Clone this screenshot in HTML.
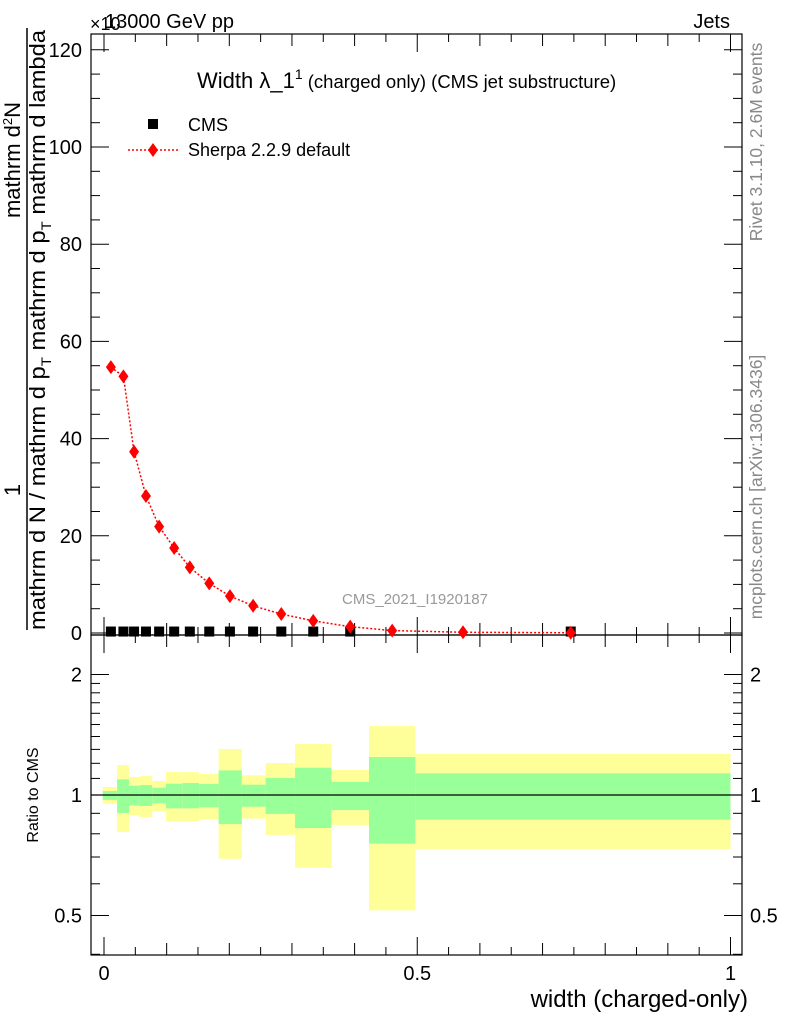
<!DOCTYPE html>
<html><head><meta charset="utf-8"><style>
html,body{margin:0;padding:0;background:#fff}
svg{display:block;font-family:"Liberation Sans",sans-serif}
</style></head><body>
<svg id="chart" width="786" height="1024" viewBox="0 0 786 1024" xmlns="http://www.w3.org/2000/svg">
<g id="main"></g>
</svg>
<script>
const binEdges=[0,0.021,0.040,0.057,0.077,0.099,0.124,0.152,0.184,0.221,0.259,0.305,0.363,0.423,0.497];
const sherpaX=[0.011,0.031,0.048,0.067,0.088,0.112,0.137,0.168,0.201,0.238,0.283,0.334,0.393,0.460,0.573,0.745];
const sherpaY=[54.7,52.8,37.3,28.2,21.9,17.5,13.5,10.2,7.6,5.6,3.9,2.5,1.3,0.5,0.15,0.05];
const cmsX=[0.011,0.031,0.048,0.067,0.088,0.112,0.137,0.168,0.201,0.238,0.283,0.334,0.393,0.745];
const cmsY=[0.3,0.3,0.3,0.3,0.3,0.3,0.3,0.3,0.3,0.3,0.3,0.3,0.3,0.3];
const ratioEdges=[-0.002,0.021,0.040,0.057,0.077,0.099,0.125,0.152,0.183,0.220,0.258,0.305,0.363,0.423,0.497,1.0];
const greenHi=[1.023,1.094,1.055,1.059,1.043,1.067,1.071,1.065,1.152,1.061,1.103,1.170,1.078,1.244,1.133];
const greenLo=[0.972,0.902,0.942,0.939,0.953,0.926,0.926,0.932,0.846,0.935,0.897,0.827,0.917,0.756,0.868];
const yellowHi=[1.047,1.188,1.109,1.115,1.084,1.141,1.141,1.128,1.303,1.120,1.202,1.341,1.155,1.487,1.266];
const yellowLo=[0.951,0.808,0.890,0.881,0.912,0.858,0.858,0.871,0.693,0.873,0.795,0.658,0.841,0.515,0.733];
const mainTicks=[0,20,40,60,80,100,120];
const ratioTicks=[0.5,1,2];

const NS="http://www.w3.org/2000/svg";
const g=document.getElementById('main');
const L=91,R=742,T=34,MB=635,RB=955;
const X=v=>104+v*626.5;
const Y=v=>633-v*4.86;
const RY=v=>795-Math.log2(v)*120.5;
function el(tag,attrs,parent){const e=document.createElementNS(NS,tag);for(const k in attrs)e.setAttribute(k,attrs[k]);(parent||g).appendChild(e);return e;}
function txt(s,attrs){const e=el('text',attrs);e.textContent=s;return e;}

for(let i=0;i<greenHi.length;i++){
  const x0=X(ratioEdges[i]),x1=X(ratioEdges[i+1]);
  const y=el('rect',{x:x0,y:RY(yellowHi[i]),width:x1-x0,height:RY(yellowLo[i])-RY(yellowHi[i]),fill:'#ffff99'});
  
  
  const gr=el('rect',{x:x0,y:RY(greenHi[i]),width:x1-x0,height:RY(greenLo[i])-RY(greenHi[i]),fill:'#99ff99'});
  
  
}
const one=el('line',{x1:L,x2:R,y1:RY(1),y2:RY(1),stroke:'#000','stroke-width':1.3});



const f1=el('rect',{x:L,y:T,width:R-L,height:MB-T,fill:'none',stroke:'#000','stroke-width':1.2});


const f2=el('rect',{x:L,y:MB,width:R-L,height:RB-MB,fill:'none',stroke:'#000','stroke-width':1.2});



for(let v=0;v<=120;v+=5){
  const len=(v%20===0)?18:9;
  el('line',{x1:L,x2:L+len,y1:Y(v),y2:Y(v),stroke:'#000'});
  el('line',{x1:R,x2:R-len,y1:Y(v),y2:Y(v),stroke:'#000'});
}
mainTicks.forEach(v=>{
  const t=txt(String(v),{x:82,y:Y(v)+7,'font-size':20,'text-anchor':'end'});
  
  
});
for(let i=0;i<=20;i++){
  const v=i*0.05,x=X(v);
  const len=(i%10===0)?18:(i%2===0?12:8);
  el('line',{x1:x,x2:x,y1:MB,y2:MB-len,stroke:'#000'});
  el('line',{x1:x,x2:x,y1:T,y2:T+len,stroke:'#000'});
  el('line',{x1:x,x2:x,y1:RB,y2:RB-len,stroke:'#000'});
  el('line',{x1:x,x2:x,y1:MB,y2:MB+len,stroke:'#000'});
}
[0,0.5,1].forEach(v=>{
  const t=txt(String(v),{x:X(v),y:980,'font-size':20,'text-anchor':'middle'});
  
  
});
const minors=[0.4,0.5,0.6,0.7,0.8,0.9,1,1.1,1.2,1.3,1.4,1.5,1.6,1.7,1.8,1.9,2];
minors.forEach(v=>{
  const len=ratioTicks.includes(v)?18:9;
  el('line',{x1:L,x2:L+len,y1:RY(v),y2:RY(v),stroke:'#000'});
  el('line',{x1:R,x2:R-len,y1:RY(v),y2:RY(v),stroke:'#000'});
});
ratioTicks.forEach(v=>{
  const t=txt(String(v),{x:82,y:RY(v)+7,'font-size':20,'text-anchor':'end'});
  
  
  const t2=txt(String(v),{x:750,y:RY(v)+7,'font-size':20,'text-anchor':'start'});
  
  
});

const pts=sherpaX.map((x,i)=>X(x)+','+Y(sherpaY[i])).join(' ');
const pl=el('polyline',{points:pts,fill:'none',stroke:'#ff0000','stroke-width':1.5,'stroke-dasharray':'2,2'});


cmsX.forEach((x,i)=>{
  const r=el('rect',{x:X(x)-5,y:Y(cmsY[i])-5,width:10,height:10,fill:'#000'});
  
  
});
sherpaX.forEach((x,i)=>{
  const cx=X(x),cy=Y(sherpaY[i]);
  const d=el('polygon',{points:`${cx},${cy-7} ${cx+5},${cy} ${cx},${cy+7} ${cx-5},${cy}`,fill:'#ff0000'});
  
  
});
</script>
<svg style="position:absolute;left:0;top:0" width="786" height="1024" viewBox="0 0 786 1024" xmlns="http://www.w3.org/2000/svg" font-family="Liberation Sans, sans-serif">
<text x="105" y="28" font-size="20">13000 GeV pp</text>
<text x="90" y="30" font-size="18">×10</text>
<text x="730" y="28" font-size="20" text-anchor="end">Jets</text>
<text x="197" y="88" font-size="22">Width λ_1<tspan font-size="14" dy="-9">1</tspan><tspan font-size="18.5" dy="9"> (charged only) (CMS jet substructure)</tspan></text>
<rect x="148" y="119" width="10" height="10" fill="#000"/>
<text x="188" y="131" font-size="18">CMS</text>
<line x1="128" x2="178" y1="150" y2="150" stroke="#f00" stroke-width="1.5" stroke-dasharray="2,2"/>
<polygon points="153,143 158,150 153,157 148,150" fill="#f00"/>
<text x="188" y="156" font-size="18">Sherpa 2.2.9 default</text>
<text x="415" y="604" font-size="15" fill="#999" text-anchor="middle">CMS_2021_I1920187</text>
<text x="748" y="1007" font-size="24" text-anchor="end">width (charged-only)</text>
<text transform="translate(38,795) rotate(-90)" font-size="16" text-anchor="middle">Ratio to CMS</text>
<text transform="translate(762,142) rotate(-90)" font-size="17.5" fill="#888" text-anchor="middle">Rivet 3.1.10,  2.6M events</text>
<text transform="translate(762,487) rotate(-90)" font-size="17.5" fill="#888" text-anchor="middle">mcplots.cern.ch [arXiv:1306.3436]</text>
<line x1="27" x2="27" y1="28" y2="630" stroke="#000" stroke-width="1.5"/>
<text transform="translate(20,490) rotate(-90)" font-size="22" text-anchor="middle">1</text>
<text transform="translate(20,160) rotate(-90)" font-size="22" text-anchor="middle">mathrm d<tspan font-size="13" dy="-8">2</tspan><tspan dy="8">N</tspan></text>
<text transform="translate(45,330) rotate(-90)" font-size="22" text-anchor="middle" textLength="600" lengthAdjust="spacingAndGlyphs">mathrm d N / mathrm d p<tspan font-size="14" dy="6">T</tspan><tspan dy="-6"> mathrm d p</tspan><tspan font-size="14" dy="6">T</tspan><tspan dy="-6"> mathrm d lambda</tspan></text>
</svg>
</body></html>
